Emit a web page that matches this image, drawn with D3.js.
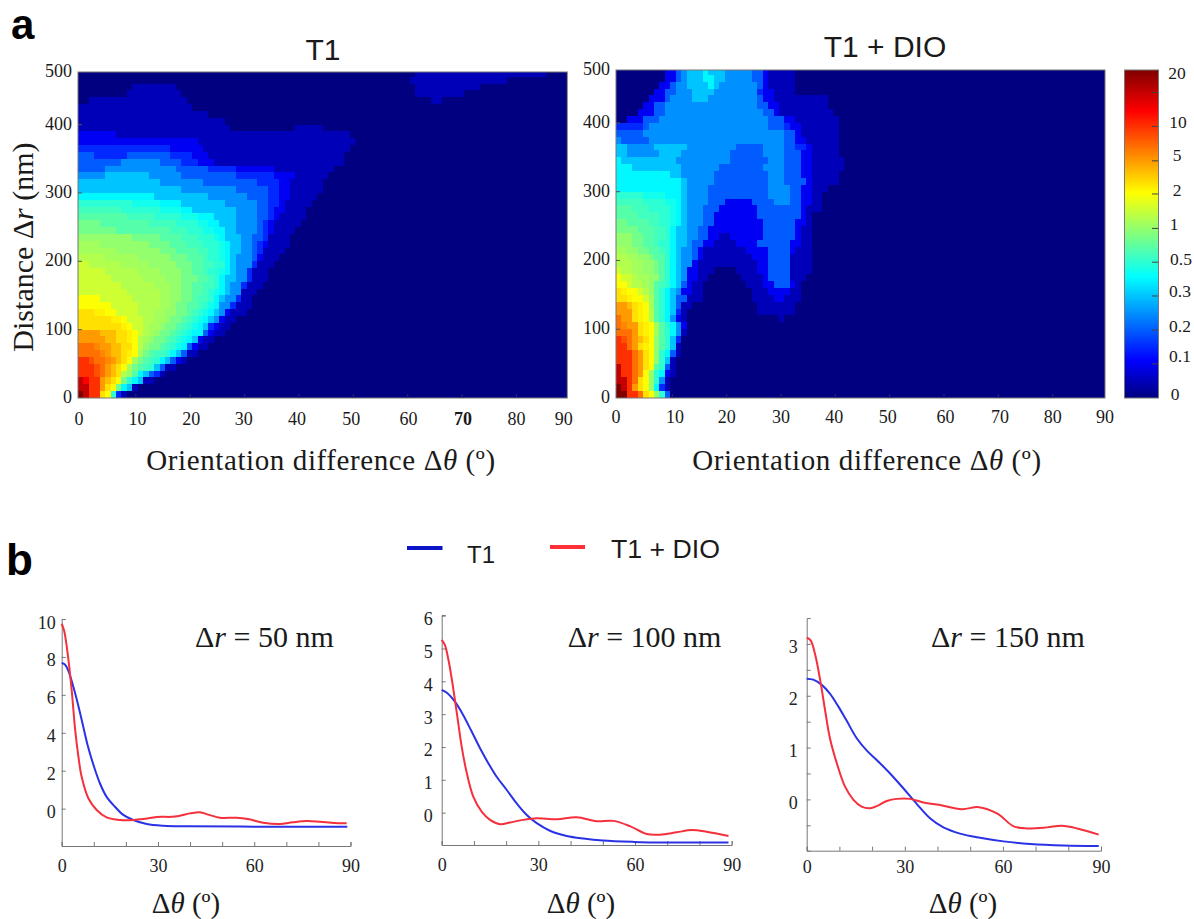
<!DOCTYPE html>
<html>
<head>
<meta charset="utf-8">
<script src="https://cdnjs.cloudflare.com/ajax/libs/d3/7.8.5/d3.min.js"></script>
<style>
body { margin: 0; background: #fff; }
.serif { font-family: "Liberation Serif", serif; fill: #1a1a1a; }
.sans { font-family: "Liberation Sans", Arial, sans-serif; fill: #1a1a1a; }
.axis path, .axis line { stroke: #777; }
.axis text { font-family: "Liberation Serif", serif; fill: #222; }
</style>
</head>
<body>
<svg width="1194" height="919"></svg>
<script>
var svg = d3.select("svg");

// colour bar: value at each tick, and the labels next to it
var barTicks = [0, 0.1, 0.2, 0.3, 0.5, 1, 2, 5, 10, 15, 20];
var barPositions = [0, 0.104, 0.207, 0.311, 0.414, 0.517, 0.622, 0.723, 0.828, 0.932, 1];
var barLabels = ["0", "0.1", "0.2", "0.3", "0.5", "1", "2", "5", "10", "20"];
var barLabelValues = [0, 0.1, 0.2, 0.3, 0.5, 1, 2, 5, 10, 20];

// heat values, the rows below index into this
var bandValues = [0, 0.05, 0.1, 0.15, 0.2, 0.25, 0.3, 0.4, 0.45, 0.5, 0.6, 0.7, 0.85, 1, 1.15, 1.3, 1.55, 2, 2.5, 3, 4, 5, 6, 7, 8.5, 10, 12.5, 15, 20];

// one row per 10 nm, top row first. Each row is band,endColumn,band,endColumn...
// columns are 1 degree wide, whatever follows the last run is band 0
var t1Rows = [
  [0,62,1,86],
  [0,61,1,79],
  [0,10,1,18,0,62,1,74],
  [0,9,1,19,0,62,1,71],
  [0,2,1,20,0,65,1,67],
  [1,21],
  [1,24],
  [1,27],
  [1,28,0,40,1,45],
  [2,7,1,50],
  [2,22,1,51],
  [3,17,2,23,1,50],
  [4,3,3,9,4,17,3,21,2,24,1,49],
  [4,8,5,15,4,19,3,22,2,25,1,49],
  [4,5,5,18,4,24,3,29,2,36,1,47],
  [5,5,6,13,5,19,4,29,3,36,2,40,1,46],
  [6,15,5,23,4,33,3,37,2,39,1,45],
  [6,19,5,29,4,35,3,37,2,39,1,45],
  [7,14,6,24,5,31,4,35,3,37,2,39,1,44],
  [9,10,8,15,7,19,6,27,5,33,4,35,3,37,2,38,1,43],
  [10,8,9,15,8,19,7,21,6,29,5,33,4,35,3,36,2,38,1,42],
  [11,9,10,14,9,19,8,22,7,25,6,29,5,33,4,35,3,36,2,37,1,42],
  [12,4,11,13,10,18,9,22,8,24,7,26,6,29,5,33,4,34,3,35,2,36,1,41],
  [12,7,11,17,10,20,9,23,8,25,7,27,6,29,5,33,4,34,3,35,2,36,1,40],
  [13,10,12,15,11,19,10,22,9,25,8,26,7,27,6,30,5,32,4,34,3,35,1,39],
  [14,4,13,13,12,17,11,20,10,23,9,26,8,27,7,28,6,30,5,32,4,33,3,34,2,35,1,39],
  [14,7,13,15,12,18,11,22,10,24,9,26,8,27,7,28,6,30,5,32,4,33,3,34,1,38],
  [15,5,14,11,13,17,12,20,11,23,10,24,9,26,8,27,7,28,6,29,5,32,4,33,2,34,1,37],
  [16,2,15,8,14,13,13,18,12,21,11,23,10,25,9,27,7,28,6,29,5,32,3,33,1,36],
  [16,5,15,11,14,15,13,19,12,21,11,23,10,24,9,26,8,27,7,28,6,29,5,31,3,32,1,35],
  [16,6,15,12,14,16,13,19,12,22,11,24,10,25,9,26,7,27,6,29,5,31,3,32,1,35],
  [16,8,15,14,14,17,13,19,12,21,11,23,10,25,9,26,7,27,6,28,5,30,3,31,1,34],
  [16,9,15,15,14,17,13,19,12,21,11,23,10,24,9,25,8,26,7,27,6,28,5,30,1,33],
  [17,4,16,10,15,15,14,17,13,19,12,21,11,22,10,24,9,25,7,26,6,27,5,29,3,30,1,32],
  [17,6,16,11,15,15,14,17,13,18,12,20,11,22,10,23,9,24,8,25,7,26,5,28,3,29,1,32],
  [19,3,18,5,17,7,16,11,15,14,14,16,13,18,12,20,11,21,10,22,9,23,8,24,7,25,6,26,5,27,2,28,1,31],
  [19,6,18,8,17,9,16,12,15,14,14,16,13,17,12,19,11,20,10,21,9,22,8,23,7,24,6,25,5,26,2,27,1,29],
  [19,8,18,9,17,10,16,12,15,13,14,15,13,16,12,18,11,19,10,20,9,21,8,22,7,23,6,24,3,25,2,26,1,28],
  [21,4,20,7,19,9,18,10,17,11,16,12,15,13,14,14,13,15,12,17,11,18,10,19,9,20,8,21,7,23,4,24,2,25,1,27],
  [21,5,20,7,19,9,18,10,17,11,15,12,14,13,13,14,12,16,11,17,10,18,9,19,8,20,7,21,6,22,2,23,1,25],
  [23,3,22,4,21,6,20,8,19,10,17,11,15,12,13,13,12,15,11,16,10,17,9,18,8,19,7,20,4,21,2,22,1,24],
  [23,4,22,5,21,6,20,8,19,9,18,10,17,11,14,12,12,13,11,14,10,16,9,17,7,18,6,19,4,20,1,22],
  [25,2,24,3,23,5,22,6,21,7,20,8,19,9,17,10,14,11,12,12,11,13,10,14,9,15,7,16,6,17,4,18,2,19,1,20],
  [25,3,24,4,23,5,21,6,20,7,19,8,17,9,14,10,12,11,11,12,10,13,9,14,6,15,4,16,1,18],
  [25,3,24,4,23,5,21,6,20,7,19,8,15,9,13,10,11,11,7,12,6,13,4,14,3,15,1,16],
  [27,1,26,2,25,4,21,5,20,6,19,7,17,8,12,9,9,10,7,11,6,12,1,14],
  [27,2,25,4,21,5,19,6,17,7,12,8,7,9,6,10,1,11],
  [28,1,27,2,25,4,19,5,17,6,9,7,3,8,1,9]
];

var dioRows = [
  [0,9,2,11,4,12,5,13,6,16,7,17,6,20,5,25,4,27,2,28,1,33],
  [0,9,2,11,4,12,5,13,6,16,7,18,6,20,5,25,4,27,2,28,1,33],
  [0,8,2,10,4,11,5,13,6,17,7,18,6,19,5,26,4,27,2,28,1,33],
  [0,7,2,9,4,11,5,14,6,18,5,26,3,27,2,29,1,33],
  [0,6,2,9,4,10,5,14,6,17,5,26,4,27,2,29,1,39],
  [0,5,2,7,4,9,5,26,4,28,2,30,1,39],
  [0,4,2,7,4,9,5,27,4,29,2,30,1,40],
  [0,2,2,5,4,8,5,28,4,31,2,33,1,41],
  [3,5,4,6,5,28,4,31,3,32,2,34,1,41],
  [4,5,5,31,4,33,2,34,1,41],
  [5,1,4,6,5,31,4,33,2,35,1,41],
  [6,2,5,7,6,13,5,22,4,27,5,31,4,33,3,35,2,36,1,41],
  [6,2,5,8,6,12,5,21,4,27,5,31,4,34,2,36,1,41],
  [7,1,6,11,5,21,4,28,5,31,4,34,2,36,1,42],
  [7,3,6,12,5,19,4,27,5,31,4,34,2,36,1,42],
  [7,10,6,12,5,18,4,28,5,31,4,34,2,36,1,41],
  [7,12,6,13,5,18,4,28,5,31,4,35,2,36,1,41],
  [7,12,6,13,5,17,4,28,5,32,4,34,2,36,1,39],
  [9,5,8,9,7,12,6,13,5,17,4,28,5,32,4,34,2,36,1,38],
  [10,5,9,9,8,11,7,12,6,13,5,17,4,20,2,25,4,29,5,32,4,34,2,36,1,38],
  [11,3,10,6,9,10,8,11,7,12,6,13,5,16,4,19,2,26,4,34,2,35,1,38],
  [11,4,10,8,9,10,8,11,7,12,6,13,5,16,4,18,2,26,4,34,2,35,1,36],
  [12,2,11,6,10,8,9,10,8,11,7,12,6,13,5,16,4,18,2,27,4,33,2,35,1,36],
  [12,4,11,7,10,9,9,10,7,11,6,13,5,15,4,17,2,27,4,33,2,34,1,36],
  [13,3,12,5,11,7,10,9,9,10,7,11,6,13,5,15,4,17,2,19,1,21,2,27,4,33,2,34,1,36],
  [13,3,12,5,11,7,10,8,9,10,7,11,6,13,5,14,4,16,2,18,1,22,2,26,4,32,2,34,1,36],
  [14,2,13,4,12,6,11,8,10,9,9,10,7,11,6,12,5,14,4,15,2,16,1,24,2,28,4,32,2,33,1,36],
  [15,2,14,4,13,6,12,7,11,9,9,10,7,11,6,12,5,14,4,15,2,16,1,25,2,28,4,32,1,36],
  [15,3,14,5,13,7,12,8,11,9,9,10,7,11,6,12,5,14,2,15,1,26,2,28,4,32,1,36],
  [16,1,15,3,14,5,13,7,12,8,11,9,9,10,7,11,6,12,5,13,2,15,1,18,0,22,1,26,2,28,4,32,1,36],
  [17,1,16,3,15,4,14,6,13,8,11,9,9,10,7,11,6,12,5,13,2,15,1,17,0,23,1,27,2,28,4,32,1,35],
  [17,2,16,3,15,5,14,6,13,7,11,8,10,9,9,10,7,11,6,12,4,13,2,14,1,16,0,24,1,27,2,29,4,32,2,33,1,34],
  [19,1,18,2,17,4,16,5,15,6,13,7,11,8,9,9,7,10,6,11,5,12,2,14,1,16,0,25,1,28,2,32,1,34],
  [19,2,18,3,17,5,16,6,14,7,11,8,9,9,7,10,6,11,4,13,1,16,0,25,1,29,2,31,1,34],
  [21,2,20,3,19,4,18,5,17,6,14,7,11,8,9,9,7,10,6,11,4,12,1,14,0,26,1,33],
  [21,3,19,4,18,5,17,6,15,7,11,8,9,9,7,10,6,11,3,12,1,13,0,26,1,33],
  [23,1,21,3,19,4,18,5,17,6,15,7,11,8,9,9,7,10,5,11,2,12,1,13,0,30,1,31],
  [23,1,22,2,21,4,19,5,18,6,17,7,14,8,11,9,9,10,7,11,5,12,2,13],
  [23,3,21,4,19,5,18,6,17,7,14,8,11,9,9,10,7,11,5,12,1,13],
  [25,1,24,2,23,3,21,4,20,5,19,6,17,7,13,8,11,9,9,10,6,11,3,12],
  [25,2,23,3,21,4,19,5,18,6,17,7,13,8,11,9,9,10,6,11,1,12],
  [25,3,23,4,21,5,19,6,17,7,13,8,9,9,7,10,4,11,1,12],
  [25,3,23,4,21,5,19,6,17,7,13,8,9,9,6,10,1,11],
  [27,1,25,3,23,4,21,5,19,6,17,7,11,8,9,9,4,10,1,11],
  [27,1,25,3,23,4,21,5,17,6,13,7,9,8,7,9,2,10,1,11],
  [27,2,25,3,23,4,19,5,17,6,13,7,9,8,5,9,1,10],
  [28,1,27,2,25,3,21,4,19,5,17,6,13,7,7,8,3,9,1,10],
  [28,2,25,4,23,5,19,6,17,7,13,8,9,9,4,10]
];

var heatXTicks = [0, 10, 20, 30, 40, 50, 60, 70, 80, 90];
var heatYTicks = [0, 100, 200, 300, 400, 477];
var heatYLabels = ["0", "100", "200", "300", "400", "500"];

// line panels, [delta theta, value]
var blue50 = [[0,7.68],[1,7.6],[2,7.3],[4,6.2],[6,4.85],[8,3.4],[10,2.25],[12,1.3],[14,0.62],[16.6,0.1],[19.2,-0.33],[22.3,-0.6],[26.5,-0.81],[31.7,-0.9],[39,-0.93],[60,-0.95],[89,-0.95]];
var red50 = [[0,9.75],[0.8,9.35],[2.1,7.85],[3.1,6.27],[4.2,4.15],[5.2,2.75],[6.2,1.69],[8.3,0.55],[10.9,-0.07],[14,-0.46],[18.2,-0.6],[22.3,-0.6],[25.4,-0.55],[29.6,-0.44],[35.3,-0.42],[40,-0.25],[43,-0.19],[46,-0.33],[49.3,-0.48],[54.5,-0.48],[58,-0.55],[62.8,-0.74],[68,-0.81],[72,-0.72],[76.3,-0.65],[80.5,-0.69],[85,-0.76],[88.8,-0.77]];
var blue100 = [[0,3.74],[1.6,3.65],[4.1,3.38],[6.7,2.97],[9.3,2.47],[11.9,1.96],[14.5,1.5],[17,1.1],[20.2,0.69],[23.3,0.28],[26.4,-0.07],[29.5,-0.32],[33.6,-0.55],[38.8,-0.71],[44,-0.79],[50,-0.85],[59.5,-0.89],[70,-0.91],[89,-0.91]];
var red100 = [[0,5.26],[1,5.1],[2.1,4.65],[3.1,4.09],[4.7,3.03],[6.2,2.01],[7.8,1.2],[9.8,0.49],[12.4,0.03],[15,-0.22],[18.1,-0.35],[21.2,-0.3],[25.3,-0.22],[29.5,-0.17],[35.7,-0.2],[41.9,-0.14],[48,-0.26],[53.3,-0.25],[58.4,-0.41],[63.6,-0.65],[67.7,-0.67],[72.9,-0.6],[77.6,-0.53],[82.2,-0.58],[89,-0.71]];
var blue150 = [[0,2.33],[2,2.31],[4.6,2.21],[7.1,2.04],[9.7,1.79],[12.2,1.52],[15.3,1.18],[18.4,0.94],[21.4,0.76],[25.5,0.5],[29.6,0.21],[33.7,-0.09],[37.8,-0.37],[41.8,-0.54],[46.9,-0.66],[53,-0.74],[60.2,-0.81],[68.4,-0.86],[78.6,-0.89],[89.3,-0.9]];
var red150 = [[0,3.12],[1.2,3.07],[2.6,2.79],[4.1,2.31],[5.6,1.73],[7.1,1.18],[9.2,0.7],[11.7,0.25],[14.3,-0.01],[16.8,-0.14],[19.4,-0.17],[21.4,-0.13],[24.5,-0.03],[27.6,0.01],[31.6,0.01],[35.7,-0.06],[40.8,-0.11],[47.4,-0.19],[52.6,-0.15],[58.2,-0.27],[63.3,-0.52],[67.3,-0.56],[73.5,-0.54],[78,-0.51],[82.7,-0.56],[89.3,-0.68]];

var lineXTicks = [0, 10, 20, 30, 40, 50, 60, 70, 80, 90];
var lineXLabels = [0, 30, 60, 90];
var yTicks50 = [0, 2, 4, 6, 8, 10];
var yTicks100 = [0, 1, 2, 3, 4, 5, 6];
var yTicks150 = [-0.5, 0, 0.5, 1, 1.5, 2, 2.5, 3];

var blueLine = "#2a32e6";
var redLine = "#f4303c";

// jet colours along the bar, position goes 0 to 1 from the bottom
var jetStops = [0, 0.115, 0.37, 0.625, 0.875, 1];
var jetColors = ["#000080", "#0000ff", "#00ffff", "#ffff00", "#ff0000", "#800000"];
var jet = d3.scaleLinear().domain(jetStops).range(jetColors);
var barPos = d3.scaleLinear().domain(barTicks).range(barPositions);

function heatColor(value) {
  return jet(barPos(value));
}

// turn the runs of one panel into one cell per degree and per 10 nm
function expandRows(rows) {
  var cells = [];
  rows.forEach(function(row, i) {
    var k = rows.length - 1 - i;
    var col = 0;
    for (var j = 0; j < row.length; j += 2) {
      for (; col < row[j + 1]; col++) {
        cells.push({col: col, r: k * 10, value: bandValues[row[j]]});
      }
    }
    for (; col < 90; col++) {
      cells.push({col: col, r: k * 10, value: 0});
    }
  });
  return cells;
}

function drawHeatmap(rows, opt) {
  var x = d3.scaleLinear().domain([-opt.shift, 90 - opt.shift]).range([opt.left, opt.right]);
  var y = d3.scaleLinear().domain([0, 477]).range([398, opt.top]);

  var g = svg.append("g");

  g.append("g")
    .attr("shape-rendering", "crispEdges")
    .selectAll("rect")
    .data(expandRows(rows))
    .enter().append("rect")
    .attr("x", function(d) { return x(d.col - opt.shift); })
    .attr("y", function(d) { return y(Math.min(d.r + 10, 477)); })
    .attr("width", function(d) { return x(d.col + 1 - opt.shift) - x(d.col - opt.shift); })
    .attr("height", function(d) { return y(d.r) - y(Math.min(d.r + 10, 477)); })
    .attr("fill", function(d) { return heatColor(d.value); });

  // frame
  g.append("rect")
    .attr("x", opt.left).attr("y", opt.top)
    .attr("width", opt.right - opt.left).attr("height", 398 - opt.top)
    .attr("fill", "none").attr("stroke", "#777").attr("stroke-width", 1);

  // small ticks inside the frame
  g.selectAll("line.xtick")
    .data(heatXTicks.slice(1, -1))
    .enter().append("line")
    .attr("x1", function(d) { return x(d); })
    .attr("x2", function(d) { return x(d); })
    .attr("y1", 398).attr("y2", 394)
    .attr("stroke", "#2a2a70");
  g.selectAll("line.ytick")
    .data(heatYTicks.slice(1, -1))
    .enter().append("line")
    .attr("x1", opt.left).attr("x2", opt.left + 4)
    .attr("y1", function(d) { return y(d); })
    .attr("y2", function(d) { return y(d); })
    .attr("stroke", "#555");

  g.selectAll("text.xlab")
    .data(heatXTicks)
    .enter().append("text")
    .attr("class", "serif")
    .attr("x", function(d, i) { return x(d) + opt.labelShift[i]; })
    .attr("y", opt.xLabelY)
    .attr("text-anchor", "middle")
    .style("font-size", "18px")
    .style("font-weight", function(d) { return opt.boldTick === d ? "bold" : "normal"; })
    .text(function(d) { return d; });

  g.selectAll("text.ylab")
    .data(heatYTicks)
    .enter().append("text")
    .attr("class", "serif")
    .attr("x", opt.yLabelX)
    .attr("y", function(d) { return y(d) + 5; })
    .attr("text-anchor", "end")
    .style("font-size", "18px")
    .text(function(d, i) { return heatYLabels[i]; });

  g.append("text")
    .attr("class", "sans")
    .attr("x", opt.titleX).attr("y", opt.titleY)
    .attr("text-anchor", "middle")
    .style("font-size", "30px")
    .text(opt.title);

  var lab = g.append("text")
    .attr("class", "serif")
    .attr("x", opt.labelX).attr("y", 470)
    .attr("text-anchor", "middle")
    .style("font-size", "29px")
    .style("letter-spacing", "0.6px");
  lab.append("tspan").text("Orientation difference \u0394");
  lab.append("tspan").style("font-style", "italic").text("\u03b8");
  lab.append("tspan").text(" (\u00ba)");
}

drawHeatmap(t1Rows, {
  left: 78, right: 567.3, top: 72, shift: 0.65,
  labelShift: [-2.5, 1.5, 1, -1, -2, -2, 0.7, 1, 0, -7],
  boldTick: 70, xLabelY: 425, yLabelX: 72,
  title: "T1", titleX: 323, titleY: 60, labelX: 321
});

drawHeatmap(dioRows, {
  left: 616, right: 1105, top: 70, shift: 0.37,
  labelShift: [-2, 2.7, 0, 0, -1, -2, 1.6, 1.7, 0, -2],
  boldTick: null, xLabelY: 423, yLabelX: 610,
  title: "T1 + DIO", titleX: 885, titleY: 57, labelX: 867
});

// y label of the first map
var ylab = svg.append("text")
  .attr("class", "serif")
  .attr("transform", "translate(33,247) rotate(-90)")
  .attr("text-anchor", "middle")
  .style("font-size", "30px");
ylab.append("tspan").text("Distance \u0394");
ylab.append("tspan").style("font-style", "italic").text("r");
ylab.append("tspan").text(" (nm)");

// colour bar
var defs = svg.append("defs");
var grad = defs.append("linearGradient")
  .attr("id", "jetbar")
  .attr("x1", 0).attr("x2", 0).attr("y1", 1).attr("y2", 0);
grad.selectAll("stop")
  .data(jetStops)
  .enter().append("stop")
  .attr("offset", function(d) { return d; })
  .attr("stop-color", function(d, i) { return jetColors[i]; });

var barY = d3.scaleLinear().domain([0, 1]).range([398, 70]);
svg.append("rect")
  .attr("x", 1124.5).attr("y", 70)
  .attr("width", 34).attr("height", 328)
  .attr("fill", "url(#jetbar)")
  .attr("stroke", "#777");

svg.selectAll("line.bartick")
  .data(barPositions.slice(1, -1))
  .enter().append("line")
  .attr("x1", 1152).attr("x2", 1158)
  .attr("y1", function(d) { return barY(d); })
  .attr("y2", function(d) { return barY(d); })
  .attr("stroke", "#444");

var barLabelDy = [0, -4, 0, -1, 1, 0, 0, -2, 0, 7];
var barLabelX = [1175, 1180, 1180, 1180, 1181, 1174, 1177, 1177, 1178, 1177];
svg.selectAll("text.barlab")
  .data(barLabels)
  .enter().append("text")
  .attr("class", "serif")
  .attr("x", function(d, i) { return barLabelX[i]; })
  .attr("y", function(d, i) { return barY(barPos(barLabelValues[i])) + barLabelDy[i] + 2; })
  .attr("text-anchor", "middle")
  .style("font-size", "17.5px")
  .text(function(d) { return d; });

// panel letters
svg.append("text").attr("class", "sans").attr("x", 11).attr("y", 39)
  .style("font-size", "42px").style("font-weight", "bold").style("fill", "#000").text("a");
svg.append("text").attr("class", "sans").attr("x", 6).attr("y", 575)
  .style("font-size", "44px").style("font-weight", "bold").style("fill", "#000").text("b");

// legend
svg.append("line").attr("x1", 407).attr("x2", 442.5).attr("y1", 548).attr("y2", 548)
  .attr("stroke", "#0c14c8").attr("stroke-width", 4);
svg.append("text").attr("class", "sans").attr("x", 467).attr("y", 563)
  .style("font-size", "24px").text("T1");
svg.append("line").attr("x1", 550).attr("x2", 585).attr("y1", 547).attr("y2", 547)
  .attr("stroke", "#ff3038").attr("stroke-width", 4);
svg.append("text").attr("class", "sans").attr("x", 611).attr("y", 558)
  .style("font-size", "26.7px").text("T1 + DIO");

function drawLines(blue, red, opt) {
  var x = d3.scaleLinear().domain([0, 90]).range([opt.left, opt.right]);
  var y = d3.scaleLinear().domain(opt.yDomain).range([opt.bottom, opt.top]);
  var g = svg.append("g");

  g.append("g")
    .attr("class", "axis")
    .attr("transform", "translate(0," + opt.bottom + ")")
    .call(d3.axisBottom(x)
      .tickValues(lineXTicks)
      .tickSize(-4)
      .tickPadding(opt.xPad)
      .tickFormat(function(d) { return lineXLabels.indexOf(d) >= 0 ? d : ""; }))
    .selectAll("text")
    .style("font-size", "18px");

  g.append("g")
    .attr("class", "axis")
    .attr("transform", "translate(" + opt.left + ",0)")
    .call(d3.axisLeft(y)
      .tickValues(opt.yTicks)
      .tickSize(-4)
      .tickPadding(opt.yPad)
      .tickFormat(function(d) { return d % 1 === 0 && d >= 0 ? d : ""; }))
    .selectAll("text")
    .style("font-size", "18px")
    .attr("dy", "0.5em");

  var line = d3.line()
    .x(function(d) { return x(d[0]); })
    .y(function(d) { return y(d[1]); })
    .curve(d3.curveCatmullRom.alpha(0.5));

  g.append("path").datum(blue)
    .attr("fill", "none").attr("stroke", blueLine).attr("stroke-width", 2)
    .attr("d", line);
  g.append("path").datum(red)
    .attr("fill", "none").attr("stroke", redLine).attr("stroke-width", 2)
    .attr("d", line);

  var note = g.append("text")
    .attr("class", "serif")
    .attr("x", opt.noteX).attr("y", 646.7)
    .style("font-size", "30px");
  note.append("tspan").text("\u0394");
  note.append("tspan").style("font-style", "italic").text("r");
  note.append("tspan").text(" = " + opt.note + " nm");

  var lab = g.append("text")
    .attr("class", "serif")
    .attr("x", opt.labelX).attr("y", 913)
    .attr("text-anchor", "middle")
    .style("font-size", "29px");
  lab.append("tspan").text("\u0394");
  lab.append("tspan").style("font-style", "italic").text("\u03b8");
  lab.append("tspan").text(" (\u00ba)");
}

drawLines(blue50, red50, {
  left: 61.7, right: 350.5, bottom: 846, top: 619, yDomain: [-1.97, 10], yTicks: yTicks50,
  xPad: 13, yPad: 6, note: 50, noteX: 195, labelX: 186
});
drawLines(blue100, red100, {
  left: 441.7, right: 731.7, bottom: 845, top: 615, yDomain: [-0.985, 6.02], yTicks: yTicks100,
  xPad: 13, yPad: 9, note: 100, noteX: 567.7, labelX: 581
});
drawLines(blue150, red150, {
  left: 806.7, right: 1101, bottom: 850.7, top: 618, yDomain: [-0.99, 3.5], yTicks: yTicks150,
  xPad: 10, yPad: 9, note: 150, noteX: 931, labelX: 963
});
</script>
</body>
</html>
